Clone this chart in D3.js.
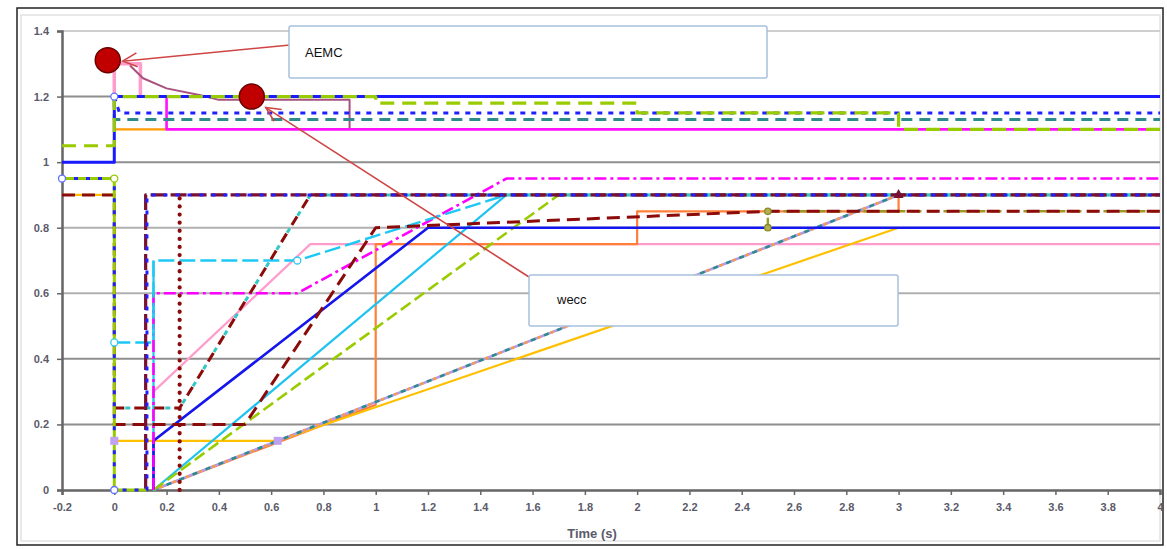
<!DOCTYPE html>
<html><head><meta charset="utf-8">
<script src="https://cdn.jsdelivr.net/npm/d3@7"></script>
<style>body{margin:0;background:#fff}svg{display:block}</style>
</head><body>
<svg id="c" width="1167" height="549"></svg>
<script>
// ---- tick labels ----
const xTicks = [-0.2,0,0.2,0.4,0.6,0.8,1,1.2,1.4,1.6,1.8,2,2.2,2.4,2.6,2.8,3,3.2,3.4,3.6,3.8,4];
const yTicks = [0,0.2,0.4,0.6,0.8,1,1.2,1.4];
const xTitle = "Time (s)";
const notes = ["AEMC","wecc"];

// ---- upper (high-voltage) curves: [time, p.u.] ----
const hvBlueSolid   = [[-0.2,1.0],[0,1.0],[0,1.2],[4,1.2]];
const hvGreenDashed = [[-0.2,1.05],[0,1.05],[0,1.2],[1,1.2],[1,1.18],[2,1.18],[2,1.15],[3,1.15],[3,1.1],[4,1.1]];
const hvBlueDotted  = [[0,1.2],[0.02,1.15],[4,1.15]];
const hvTealDashed  = [[0,1.2],[0,1.13],[4,1.13]];
const hvOrange      = [[0,1.2],[0,1.1],[0.2,1.1]];
const hvMagenta     = [[0.2,1.2],[0.2,1.1],[4,1.1]];
const hvPink        = [[0,1.2],[0,1.3],[0.1,1.3],[0.1,1.2]];
const hvMauve       = [[0.06,1.295],[0.11,1.256],[0.2,1.225],[0.33,1.204],[0.4,1.19],[0.9,1.19],[0.9,1.1]];

// ---- lower (low-voltage) curves ----
const lvGreenSolid     = [[-0.2,0.95],[0,0.95],[0,0],[0.13,0]];
const lvBlueDotted     = [[-0.2,0.95],[0,0.95],[0,0],[0.125,0],[0.125,0.9],[4,0.9]];
const lvMaroonDashed   = [[-0.2,0.9],[0,0.9],[0,0.2],[0.5,0.2],[1,0.8],[2.5,0.85],[4,0.85]];
const lvMaroonTeal     = [[0,0.25],[0.25,0.25],[0.75,0.9],[4,0.9]];
const lvMaroonDotted   = [[0.25,0],[0.25,0.9]];
const lvMaroonStep     = [[0.12,0],[0.12,0.9],[4,0.9]];
const lvCyanDashed     = [[0,0.45],[0.15,0.45],[0.15,0.7],[0.7,0.7],[1.5,0.9],[4,0.9]];
const lvCyanSolid      = [[0.15,0.7],[0.15,0],[1.5,0.9],[4,0.9]];
const lvBlueSolid      = [[0.15,0],[0.15,0.15],[1.2,0.8],[4,0.8]];
const lvPink           = [[0.15,0],[0.15,0.3],[0.75,0.75],[4,0.75]];
const lvMagentaDashDot = [[0.15,0],[0.15,0.6],[0.7,0.6],[1.5,0.95],[4,0.95]];
const lvGreenDashed    = [[0.15,0],[1.7,0.9],[4,0.9]];
const lvOrange         = [[0.15,0],[1,0.26],[1,0.75],[2,0.75],[2,0.85],[3,0.85],[3,0.9]];
const lvLilac          = [[0.15,0],[3,0.9]];
const lvGold           = [[-0.2,0.9],[0,0.9],[0,0.15],[0.625,0.15],[3,0.8]];
const lvOlive          = [[2.5,0.8],[2.5,0.85],[4,0.85]];

// markers
const circleMarksBlue  = [[0,1.2],[-0.2,0.95],[0,0]];
const circleMarksGreen = [[0,0.95]];
const circleMarksCyan  = [[0,0.45],[0.7,0.7]];
const squareMarksLilac = [[0,0.15],[0.625,0.15]];
const circleMarksOlive = [[2.5,0.85],[2.5,0.8]];
const triMarks         = [[3,0.9]];
// annotation dots
const annoDots = [[-0.025,1.311],[0.526,1.2]];

const svg = d3.select("#c");
const x = d3.scaleLinear().domain([-0.2,4]).range([62,1160]);
const y = d3.scaleLinear().domain([0,1.4]).range([490,31]);

// frames
svg.append("rect").attr("x",17).attr("y",8).attr("width",1146).attr("height",537)
  .attr("fill","#fff").attr("stroke","#222").attr("stroke-width",1.5);
svg.append("rect").attr("x",21).attr("y",15).attr("width",1139).attr("height",526)
  .attr("fill","none").attr("stroke","#e2e2e2").attr("stroke-width",1.5);

// gridlines
svg.append("g").selectAll("line").data(yTicks.filter(d=>d>0)).join("line")
  .attr("x1",x(-0.2)).attr("x2",x(4)).attr("y1",d=>y(d)).attr("y2",d=>y(d))
  .attr("stroke",d=>(d===1.4?"#cfcfcf":(d===0.6||d===0.8)?"#b0b0b0":"#8e8e8e"))
  .attr("stroke-width",2);

const fmt = d => String(+d.toFixed(1));
const gx = svg.append("g").attr("transform",`translate(0,${y(0)})`)
  .call(d3.axisBottom(x).tickValues(xTicks).tickFormat(fmt).tickSize(5).tickPadding(8));
const gy = svg.append("g").attr("transform",`translate(${x(-0.2)},0)`)
  .call(d3.axisLeft(y).tickValues(yTicks).tickFormat(fmt).tickSize(5).tickPadding(8));
[gx,gy].forEach(g=>{
  g.select(".domain").attr("stroke","#666").attr("stroke-width",2.5);
  g.selectAll(".tick line").attr("stroke","#666").attr("stroke-width",1.5);
  g.selectAll(".tick text").attr("fill","#5a5a6a").attr("font-family","Liberation Sans, Arial, sans-serif")
    .attr("font-size",11).attr("font-weight","bold");
});
svg.append("text").attr("x",592).attr("y",538).attr("text-anchor","middle")
  .attr("font-family","Liberation Sans, Arial, sans-serif").attr("font-size",13)
  .attr("font-weight","bold").attr("fill","#5a5a6a").text(xTitle);

const line = d3.line().x(d=>x(d[0])).y(d=>y(d[1]));
const plot = svg.append("g");
function draw(data, color, w, dash, offset, cap){
  plot.append("path").attr("d",line(data)).attr("fill","none")
    .attr("stroke",color).attr("stroke-width",w)
    .attr("stroke-dasharray",dash||null).attr("stroke-dashoffset",offset||0)
    .attr("stroke-linecap",cap||"butt").attr("stroke-linejoin","round");
}

// lower group
draw(lvPink,"#ff9ccc",2.2);
draw(lvOrange,"#ff7f3a",2.2);
draw(lvGold,"#ffc000",2.2);
draw(lvLilac,"#b49ae6",2.6);
draw(lvLilac,"#2e8b8b",2.6,"5,9");
draw(lvLilac,"#ff9a3a",2.6,"3,11",7);
draw(lvCyanSolid,"#1fc3f0",2.2);
draw(lvGreenDashed,"#99cc00",2.6,"12,5");
draw(lvBlueSolid,"#1515ee",2.6);
draw(lvMagentaDashDot,"#ff00ff",2.6,"12,4,3,4");
draw(lvCyanDashed,"#1ec8f5",2.4,"16,5");
draw(lvOlive,"#9a9a20",2.4,"10,6");
draw(lvMaroonDashed,"#8b0a0a",3,"13,7");
draw(lvMaroonTeal,"#8b0a0a",3,"10,10");
draw(lvMaroonTeal,"#35c6c6",3,"5,15",-11);
draw(lvMaroonStep,"#7a1030",3.2,"16,4");
draw(lvMaroonDotted,"#8b0a0a",4.2,"0.1,8",0,"round");
draw(lvGreenSolid,"#99cc00",3);
draw(lvBlueDotted,"#2020ff",3,"4,8",0);

// upper group
draw(hvPink,"#ff9ccc",3.5);
draw(hvMauve,"#a8507e",2);
draw(hvOrange,"#ff9900",2.2);
draw(hvMagenta,"#ff10ff",2.6);
draw(hvTealDashed,"#2e8b8b",3,"11,7");
draw(hvBlueDotted,"#2020ff",3,"5,6");
draw(hvBlueSolid,"#1a1aff",3);
draw(hvGreenDashed,"#99cc00",3.2,"14,8");

// markers
const mk = svg.append("g");
function circles(data, stroke, fill, r){
  mk.selectAll(null).data(data).join("circle").attr("cx",d=>x(d[0])).attr("cy",d=>y(d[1]))
    .attr("r",r).attr("fill",fill).attr("stroke",stroke).attr("stroke-width",1.3);
}
circles(circleMarksBlue,"#6070ff","#fff",3.5);
circles(circleMarksGreen,"#99cc00","#fff",3.5);
circles(circleMarksCyan,"#30c8f0","#fff",3.5);
circles(circleMarksOlive,"#8a8a2a","#b0b050",3.2);
mk.selectAll(null).data(squareMarksLilac).join("rect")
  .attr("x",d=>x(d[0])-4).attr("y",d=>y(d[1])-4).attr("width",8).attr("height",8)
  .attr("fill","#c0a0f0");
mk.selectAll(null).data(triMarks).join("path")
  .attr("d",d=>`M${x(d[0])},${y(d[1])-6}l5,9h-10z`).attr("fill","#7a1030");

// annotations
const an = svg.append("g");
function arrow(x1,y1,x2,y2){
  an.append("line").attr("x1",x1).attr("y1",y1).attr("x2",x2).attr("y2",y2)
    .attr("stroke","#cf4545").attr("stroke-width",1.6);
  const a = Math.atan2(y1-y2,x1-x2), L = 16, s = 0.45;
  const p1 = [x2+L*Math.cos(a+s), y2+L*Math.sin(a+s)], p2 = [x2+L*Math.cos(a-s), y2+L*Math.sin(a-s)];
  an.append("path").attr("d",`M${p1}L${x2},${y2}L${p2}`).attr("fill","none")
    .attr("stroke","#cf4545").attr("stroke-width",1.6);
}
an.selectAll(null).data(annoDots).join("circle")
  .attr("cx",d=>x(d[0])).attr("cy",d=>y(d[1])).attr("r",12.5)
  .attr("fill","#c00000").attr("stroke","#6a0000").attr("stroke-width",1.5);
arrow(290,45, x(annoDots[0][0])+15, y(annoDots[0][1])+1);
arrow(529,277, x(annoDots[1][0])+14, y(annoDots[1][1])+11);

an.append("rect").attr("x",289).attr("y",26).attr("width",478).attr("height",52).attr("rx",2)
  .attr("fill","#fff").attr("stroke","#a9c1dd").attr("stroke-width",1.5);
an.append("text").attr("x",305).attr("y",57).attr("font-family","Liberation Sans, Arial, sans-serif")
  .attr("font-size",13).attr("fill","#111").text(notes[0]);
an.append("rect").attr("x",529).attr("y",275).attr("width",369).attr("height",51).attr("rx",2)
  .attr("fill","#fff").attr("stroke","#a9c1dd").attr("stroke-width",1.5);
an.append("text").attr("x",557).attr("y",304).attr("font-family","Liberation Sans, Arial, sans-serif")
  .attr("font-size",13).attr("fill","#111").text(notes[1]);
</script>
</body></html>
